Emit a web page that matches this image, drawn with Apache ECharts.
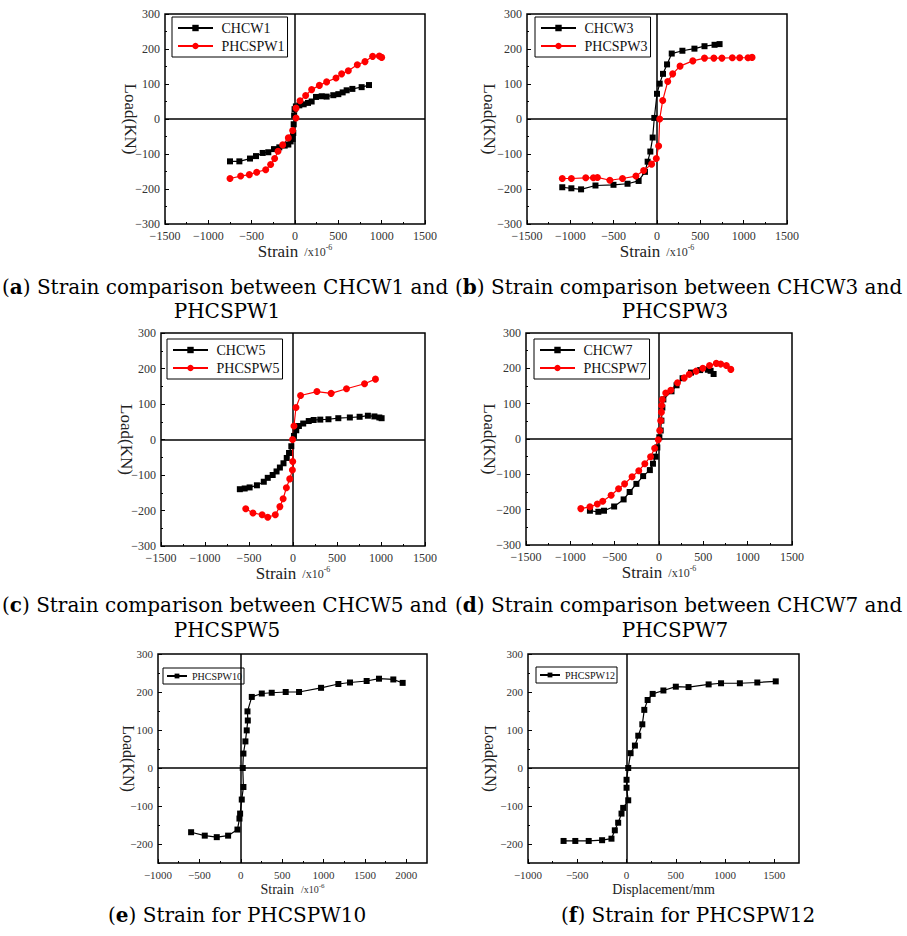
<!DOCTYPE html>
<html><head><meta charset="utf-8">
<script src="https://cdn.jsdelivr.net/npm/echarts@6/dist/echarts.min.js"></script>
<style>html,body{margin:0;padding:0;background:#fff}#c{width:907px;height:936px}</style>
</head><body><div id="c"></div>
<script>
// ---------- data ----------
const chcw1X = [-750,-642,-519,-450,-373,-308,-242,-181,-119,-77,-50,-27,-20,-15,-10,-5,10,50,100,150,192,242,308,365,442,500,550,596,662,769,854];
const chcw1Y = [-121,-121,-113,-106,-97,-95,-86,-81,-76,-73,-64,-57,-40,-15,10,28,36,39,42,46,50,63,65,64,68,71,76,82,86,91,97];
const phcspw1X = [-750,-627,-527,-442,-338,-281,-235,-196,-142,-77,-27,12,12,58,123,192,281,365,473,538,615,719,808,896,973,1000];
const phcspw1Y = [-170,-163,-159,-152,-145,-130,-113,-92,-74,-54,-33,3,31,52,67,84,96,106,117,129,138,155,164,179,180,176];

const chcw3X = [-1093,-988,-876,-710,-502,-340,-212,-139,-108,-77,-50,-31,0,31,69,116,170,293,432,548,664,722];
const chcw3Y = [-195,-198,-201,-190,-188,-185,-177,-151,-122,-93,-53,3,72,101,129,156,187,195,201,208,212,214];
const phcspw3X = [-1093,-988,-822,-734,-687,-544,-398,-243,-154,-62,-8,19,31,66,124,181,266,413,548,656,749,869,954,1050,1097];
const phcspw3Y = [-170,-170,-168,-168,-167,-175,-170,-163,-147,-129,-113,-77,0,53,107,129,151,166,174,174,174,175,175,175,176];

const chcw5X = [-604,-549,-493,-410,-332,-287,-231,-187,-149,-108,-71,-45,-19,11,37,67,116,179,235,310,403,515,646,757,851,925,981,1007];
const chcw5Y = [-140,-138,-135,-129,-119,-108,-100,-90,-79,-67,-52,-38,-19,10,26,38,45,52,55,56,57,60,62,64,67,65,62,60];
const phcspw5X = [-537,-455,-351,-287,-201,-149,-112,-75,-37,-7,-3,-5,11,34,86,272,433,608,813,937];
const phcspw5Y = [-195,-207,-212,-219,-212,-189,-167,-136,-111,-86,-62,0,38,90,124,135,130,143,157,170];

const chcw7X = [-779,-684,-620,-506,-399,-331,-255,-179,-103,-68,-38,-19,4,19,27,38,49,141,198,266,361,464,551,582,616];
const chcw7Y = [-203,-206,-203,-191,-171,-150,-127,-105,-88,-70,-50,-24,5,24,52,89,112,135,152,172,188,195,196,193,184];
const phcspw7X = [-882,-779,-696,-635,-540,-456,-388,-304,-228,-160,-95,-49,-8,8,19,27,30,38,76,133,209,285,342,418,494,570,646,696,760,810];
const phcspw7Y = [-197,-192,-184,-176,-159,-141,-127,-107,-90,-70,-50,-26,-2,24,52,76,95,112,130,138,159,173,183,192,200,208,214,212,208,197];

const phcspw10X = [-600,-435,-290,-153,-40,-16,-8,12,32,24,32,56,72,85,81,133,254,374,543,704,970,1179,1320,1521,1670,1843,1956];
const phcspw10Y = [-169,-178,-182,-178,-162,-133,-120,-83,-50,0,38,70,99,125,149,187,196,198,200,200,211,221,225,229,235,233,224];

const phcspw12X = [-639,-520,-384,-248,-153,-119,-85,-51,-34,17,0,0,17,41,85,119,160,180,214,265,374,500,629,833,959,1150,1327,1514];
const phcspw12Y = [-192,-192,-192,-190,-186,-164,-144,-120,-105,-85,-52,-31,0,39,59,85,115,153,179,195,204,214,213,220,223,223,225,228];

// tick values
const ticksAD_X = [-1500,-1000,-500,0,500,1000,1500];
const minorAD_X = [-1250,-750,-250,250,750,1250];
const ticksAD_Y = [-300,-200,-100,0,100,200,300];
const minorAD_Y = [-250,-150,-50,50,150,250];
const ticksE_X = [-1000,-500,0,500,1000,1500,2000];
const minorE_X = [-750,-250,250,750,1250,1750];
const ticksF_X = [-1000,-500,0,500,1000,1500];
const minorF_X = [-750,-250,250,750,1250];
const ticksEF_Y = [-200,-100,0,100,200,300];
const minorEF_Y = [-250,-150,-50,50,150,250];

// captions
const captions = [
  ['a', ' Strain comparison between CHCW1 and'],
  ['b', ' Strain comparison between CHCW3 and'],
  ['', 'PHCSPW1'], ['', 'PHCSPW3'],
  ['c', ' Strain comparison between CHCW5 and'],
  ['d', ' Strain comparison between CHCW7 and'],
  ['', 'PHCSPW5'], ['', 'PHCSPW7'],
  ['e', ' Strain for PHCSPW10'],
  ['f', ' Strain for PHCSPW12']
];

// ---------- layout ----------
const FONT = 'Liberation Serif';
const panels = [
  {g:{left:165,top:14,width:260,height:210}, xr:[-1500,1500], yr:[-300,300], xMaj:ticksAD_X, xMin:minorAD_X, yMaj:ticksAD_Y, yMin:minorAD_Y, big:true, xName:'strain', yGap:26, lg:{left:172,top:17},
    s:[['CHCW1',chcw1X,chcw1Y,0],['PHCSPW1',phcspw1X,phcspw1Y,1]]},
  {g:{left:527,top:14,width:260,height:210}, xr:[-1500,1500], yr:[-300,300], xMaj:ticksAD_X, xMin:minorAD_X, yMaj:ticksAD_Y, yMin:minorAD_Y, big:true, xName:'strain', yGap:29, lg:{left:535,top:17},
    s:[['CHCW3',chcw3X,chcw3Y,0],['PHCSPW3',phcspw3X,phcspw3Y,1]]},
  {g:{left:161,top:333,width:264,height:213}, xr:[-1500,1500], yr:[-300,300], xMaj:ticksAD_X, xMin:minorAD_X, yMaj:ticksAD_Y, yMin:minorAD_Y, big:true, xName:'strain', yGap:26, lg:{left:167,top:339},
    s:[['CHCW5',chcw5X,chcw5Y,0],['PHCSPW5',phcspw5X,phcspw5Y,1]]},
  {g:{left:526,top:333,width:266,height:212}, xr:[-1500,1500], yr:[-300,300], xMaj:ticksAD_X, xMin:minorAD_X, yMaj:ticksAD_Y, yMin:minorAD_Y, big:true, xName:'strain', yGap:28, lg:{left:534,top:339},
    s:[['CHCW7',chcw7X,chcw7Y,0],['PHCSPW7',phcspw7X,phcspw7Y,1]]},
  {g:{left:158,top:654,width:269,height:209}, xr:[-1000,2250], yr:[-250,300], xMaj:ticksE_X, xMin:minorE_X, yMaj:ticksEF_Y, yMin:minorEF_Y, big:false, xName:'strain', yGap:22, lg:{left:163,top:668},
    s:[['PHCSPW10',phcspw10X,phcspw10Y,0]]},
  {g:{left:528,top:654,width:271,height:209}, xr:[-1000,1750], yr:[-250,300], xMaj:ticksF_X, xMin:minorF_X, yMaj:ticksEF_Y, yMin:minorEF_Y, big:false, xName:'disp', yGap:30, lg:{left:536,top:667},
    s:[['PHCSPW12',phcspw12X,phcspw12Y,0]]}
];

const fmtNum = v => (v < 0 ? '\u2212' : '') + Math.abs(v);

const grid=[], xAxis=[], yAxis=[], series=[], legend=[];
panels.forEach((p,i)=>{
  grid.push(Object.assign({show:true, borderColor:'#000', borderWidth:1.5, backgroundColor:'transparent'}, p.g));
  const lab = p.big ? 12 : 11;
  const xname = p.xName==='disp' ? 'Displacement/mm' : '{s|Strain}  {u|/x10}{p|-6}';
  const nameStyle = p.big
    ? {fontFamily:FONT, color:'#222', rich:{s:{fontSize:17,fontFamily:FONT,color:'#222'},u:{fontSize:12,fontFamily:FONT,color:'#333'},p:{fontSize:8,fontFamily:FONT,color:'#333',verticalAlign:'top'}}}
    : {fontFamily:FONT, color:'#222', fontSize:14, rich:{s:{fontSize:14,fontFamily:FONT,color:'#222'},u:{fontSize:10,fontFamily:FONT,color:'#333'},p:{fontSize:7,fontFamily:FONT,color:'#333',verticalAlign:'top'}}};
  xAxis.push({type:'value', gridIndex:i, min:p.xr[0], max:p.xr[1], position:'bottom',
    axisLine:{show:false,onZero:false}, splitLine:{show:false},
    axisTick:{show:true,inside:true,length:4,customValues:p.xMaj,lineStyle:{color:'#000',width:1}},
    axisLabel:{customValues:p.xMaj,formatter:fmtNum,color:'#333',fontSize:lab,lineHeight:lab,fontFamily:FONT,margin:6},
    name:xname, nameLocation:'middle', nameGap:p.big?19:19, nameMoveOverlap:false, nameTextStyle:nameStyle});
  xAxis.push({type:'value', gridIndex:i, min:p.xr[0], max:p.xr[1], position:'bottom',
    axisLine:{show:false,onZero:false}, splitLine:{show:false}, axisLabel:{show:false},
    axisTick:{show:true,inside:true,length:2,customValues:p.xMin,lineStyle:{color:'#000',width:1}}});
  yAxis.push({type:'value', gridIndex:i, min:p.yr[0], max:p.yr[1], position:'left',
    axisLine:{show:false,onZero:false}, splitLine:{show:false},
    axisTick:{show:true,inside:true,length:4,customValues:p.yMaj,lineStyle:{color:'#000',width:1}},
    axisLabel:{customValues:p.yMaj,formatter:fmtNum,color:'#333',fontSize:lab,lineHeight:lab,fontFamily:FONT,margin:5},
    name:'Load(KN)', nameLocation:'middle', nameRotate:-90, nameGap:p.yGap, nameMoveOverlap:false,
    nameTextStyle:{fontFamily:FONT,fontSize:p.big?17:16,color:'#222'}});
  yAxis.push({type:'value', gridIndex:i, min:p.yr[0], max:p.yr[1], position:'left', offset:0,
    axisLine:{show:false,onZero:false}, splitLine:{show:false}, axisLabel:{show:false},
    axisTick:{show:true,inside:true,length:2,customValues:p.yMin,lineStyle:{color:'#000',width:1}}});
  p.s.forEach((s,k)=>{
    const red = s[3]===1;
    const col = red ? '#ff0000' : '#000000';
    const ser = {type:'line', name:s[0], xAxisIndex:2*i, yAxisIndex:2*i,
      data:s[1].map((x,j)=>[x,s[2][j]]),
      symbol: red?'circle':'rect', symbolSize: red?7:6,
      itemStyle:{color:col}, lineStyle:{color:col,width:1.2}, animation:false, z:3};
    if(k===0){
      ser.markLine={silent:true, symbol:['none','none'], z:1, animation:false, label:{show:false},
        lineStyle:{color:'#000',width:1.5,type:'solid'}, emphasis:{disabled:true},
        data:[{xAxis:0},{yAxis:0}]};
    }
    series.push(ser);
  });
  legend.push({show:true, orient:'vertical', left:p.lg.left, top:p.lg.top,
    data:p.s.map(s=>s[0]), borderColor:'#000', borderWidth:1,
    padding:p.big?[4,3,4,5]:[3,2,3,3], itemGap:p.big?4:2,
    itemWidth:p.big?35:20, itemHeight:p.big?8:6, formatter:p.big?' {name}':'{name}',
    textStyle:{fontFamily:FONT,fontSize:p.big?14:10,color:'#111'},
    selectedMode:false});
});

const capPos = [
  {x:2,y:287,a:'left'},{x:455,y:287,a:'left'},
  {x:227,y:311,a:'center'},{x:675,y:311,a:'center'},
  {x:2,y:605,a:'left'},{x:455,y:605,a:'left'},
  {x:227,y:630,a:'center'},{x:675,y:630,a:'center'},
  {x:108,y:915,a:'left'},{x:561,y:915,a:'left'}
];
const CAPFONT = 'DejaVu Serif';
const graphic = captions.map((c,i)=>({
  type:'text', x:capPos[i].x, y:capPos[i].y, silent:true,
  style:{
    text: c[0] ? '({b|'+c[0]+'})'+c[1] : c[1],
    fill:'#000', fontFamily:CAPFONT, fontSize:20,
    align:capPos[i].a, verticalAlign:'middle',
    rich:{b:{fontWeight:'bold',fontFamily:CAPFONT,fontSize:20,fill:'#000'}}
  }
}));

const chart = echarts.init(document.getElementById('c'), null, {renderer:'svg'});
chart.setOption({backgroundColor:'#fff', animation:false, grid, xAxis, yAxis, series, legend, graphic});
</script>
</body></html>
